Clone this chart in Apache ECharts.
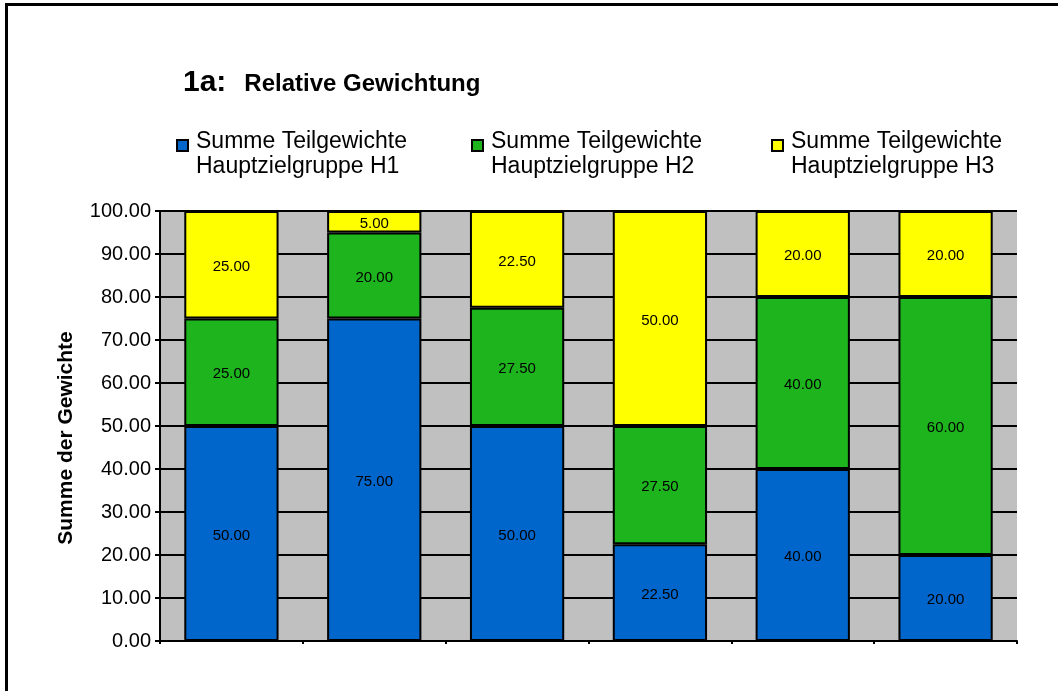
<!DOCTYPE html>
<html lang="de">
  <head>
    <meta charset="UTF-8" />
    <title>1a: Relative Gewichtung</title>
    <script src="https://cdn.jsdelivr.net/npm/echarts@6/dist/echarts.min.js"></script>
    <style>
      html, body { margin: 0; padding: 0; background: #fff; }
      #main { width: 1058px; height: 691px; }
    </style>
  </head>
  <body>
    <div id="main"></div>

    <script>
      const categories = ['1', '2', '3', '4', '5', '6'];
      const seriesNames = [
        'Summe Teilgewichte\nHauptzielgruppe H1',
        'Summe Teilgewichte\nHauptzielgruppe H2',
        'Summe Teilgewichte\nHauptzielgruppe H3',
      ];
      const h1 = [50, 75, 50, 22.5, 40, 20];
      const h2 = [25, 20, 27.5, 27.5, 40, 60];
      const h3 = [25, 5, 22.5, 50, 20, 20];
      const colors = ['#0066CC', '#1EB41E', '#FFFF00'];
      const legendLeft = [176, 471, 771];

      const font = 'Arial, "Liberation Sans", sans-serif';

      // square marker next to the first text line (the extra moves stretch the box)
      const legendIcon = 'path://M0,0M0,11L11,11L11,22L0,22ZM14,50';

      function makeSeries(name, values, color) {
        return {
          name: name,
          type: 'bar',
          stack: 'total',
          barCategoryGap: '34%',
          data: values,
          itemStyle: { color: color, borderColor: '#000', borderWidth: 2 },
          label: {
            show: true,
            position: 'inside',
            offset: [0, 2],
            color: '#000',
            fontFamily: font,
            fontSize: 15,
            formatter: (p) => p.value.toFixed(2),
          },
        };
      }

      const options = {
        animation: false,
        textStyle: { fontFamily: font },
        title: {
          text: '{a|1a:}  {b|Relative Gewichtung}',
          left: 178,
          top: 63,
          textStyle: {
            rich: {
              a: { fontFamily: font, fontSize: 30, fontWeight: 'bold', color: '#000' },
              b: { fontFamily: font, fontSize: 24, fontWeight: 'bold', color: '#000', padding: [2, 0, 0, 8] },
            },
          },
        },
        legend: seriesNames.map((n, i) => ({
          data: [n],
          left: legendLeft[i],
          top: 128,
          padding: 0,
          icon: legendIcon,
          itemWidth: 14,
          itemHeight: 50,
          itemStyle: { borderColor: '#000', borderWidth: 2 },
          textStyle: {
            fontFamily: font,
            fontSize: 23,
            lineHeight: 25,
            color: '#000',
          },
        })),
        graphic: [
          {
            type: 'rect',
            shape: { x: 6.5, y: 4.5, width: 2000, height: 2000 },
            style: { fill: 'none', stroke: '#000', lineWidth: 3 },
            silent: true,
          },
        ],
        grid: {
          left: 160,
          right: 41,
          top: 211,
          bottom: 50,
          show: true,
          backgroundColor: '#C0C0C0',
          borderWidth: 0,
        },
        xAxis: {
          type: 'category',
          data: categories,
          axisLine: { lineStyle: { color: '#000', width: 2 } },
          axisTick: { show: true, length: 3, lineStyle: { color: '#000', width: 2 } },
          axisLabel: { show: false },
        },
        yAxis: {
          type: 'value',
          min: 0,
          max: 100,
          interval: 10,
          name: 'Summe der Gewichte',
          nameLocation: 'middle',
          nameGap: 83,
          nameTextStyle: {
            fontFamily: font,
            fontSize: 21,
            fontWeight: 'bold',
            color: '#000',
            padding: [0, 0, 0, -24],
          },
          axisLine: { show: true, lineStyle: { color: '#000', width: 2 } },
          axisTick: { show: true, length: 5, lineStyle: { color: '#000', width: 2 } },
          axisLabel: {
            color: '#000',
            fontFamily: font,
            fontSize: 20,
            margin: 9,
            formatter: (v) => v.toFixed(2),
          },
          splitLine: { show: true, lineStyle: { color: '#000', width: 2 } },
        },
        series: [
          makeSeries(seriesNames[0], h1, colors[0]),
          makeSeries(seriesNames[1], h2, colors[1]),
          makeSeries(seriesNames[2], h3, colors[2]),
        ],
      };

      const myChart = echarts.init(document.getElementById('main'));
      myChart.setOption(options);
    </script>
  </body>
</html>
